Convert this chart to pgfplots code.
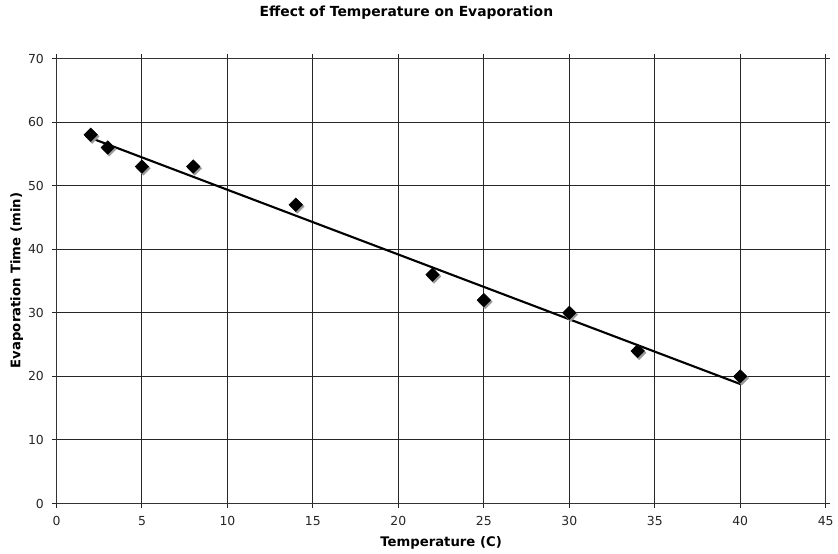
\documentclass[border=0pt]{standalone}
\usepackage{fontspec}
\setmainfont{DejaVu Sans}
\usepackage{pgfplots}
\usepackage{pgfplotstable}
\pgfplotsset{compat=1.18}
\pgfplotstableread{
x y
2 58
3 56
5 53
8 53
14 47
22 36
25 32
30 30
34 24
40 20
}\datatable
\begin{document}
\begin{tikzpicture}[x=1pt,y=1pt]
\begin{axis}[
  at={(0pt,0pt)}, anchor=south west,
  scale only axis,
  width=582pt, height=336.75pt,
  xmin=0, xmax=45, ymin=0, ymax=70,
  xtick={0,5,...,45}, ytick={0,10,...,70},
  grid=major,
  major grid style={black!85, line width=0.8pt},
  axis line style={black!80, line width=0.8pt},
  tick style={black!85, line width=0.8pt},
  tick align=outside,
  major tick length=3.5pt,
  ticklabel style={font=\fontsize{9.4pt}{11pt}\selectfont, text=black!85},
  /pgf/number format/assume math mode=true,
  xticklabel style={yshift=-2.5pt},
  yticklabel style={xshift=-2.5pt},
  clip=false,
]
\addplot[only marks, mark=square*, mark size=3.7pt, mark options={xshift=1.1pt, yshift=-1.3pt, rotate=45, fill=black!40, draw=black!40}] table[x=x,y=y] {\datatable};
\addplot[no marks, black, line width=1.6pt] table[x=x, y={create col/linear regression={y=y}}] {\datatable};
\addplot[only marks, mark=square*, mark size=3.6pt, mark options={rotate=45, fill=black, draw=black}] table[x=x,y=y] {\datatable};
\end{axis}
\node[font=\bfseries\fontsize{10.5pt}{12pt}\selectfont] at (264.75pt,371.25pt) {Effect of Temperature on Evaporation};
\node[font=\bfseries\fontsize{10pt}{12pt}\selectfont] at (291pt,-30pt) {Temperature (C)};
\node[font=\bfseries\fontsize{10pt}{12pt}\selectfont, rotate=90] at (-30pt,168.75pt) {Evaporation Time (min)};
\path[use as bounding box] (-42.75pt,-37.5pt) rectangle (585.75pt,381pt);
\end{tikzpicture}
\end{document}
